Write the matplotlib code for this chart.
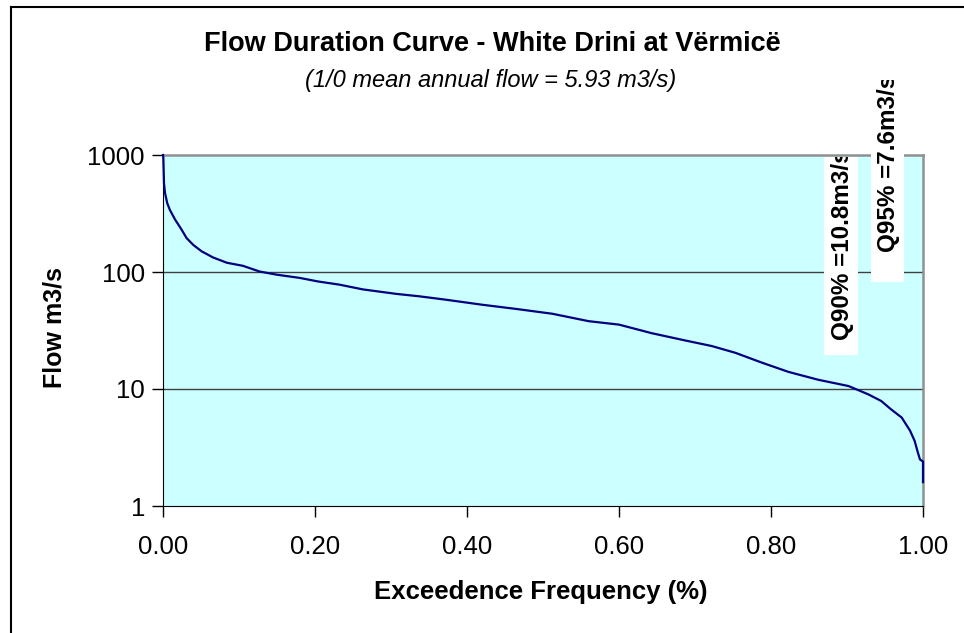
import matplotlib
matplotlib.use("Agg")
import matplotlib.pyplot as plt
from matplotlib.lines import Line2D
from matplotlib.patches import Rectangle
from matplotlib.ticker import FixedLocator, FuncFormatter

plt.rcParams["font.family"] = ["Liberation Sans", "DejaVu Sans"]

# flow duration curve (exceedence fraction, flow m3/s)
exceedence = [0.0, 0.0004, 0.0013, 0.0026, 0.0056, 0.009, 0.016, 0.0245, 0.031,
              0.040, 0.051, 0.066, 0.084, 0.105, 0.127, 0.149, 0.180, 0.204,
              0.232, 0.263, 0.307, 0.337, 0.372, 0.420, 0.464, 0.512, 0.560,
              0.600, 0.643, 0.687, 0.722, 0.753, 0.788, 0.823, 0.862, 0.902,
              0.928, 0.945, 0.958, 0.972, 0.983, 0.989, 0.993, 0.996, 1.0, 1.0]
flow = [1000, 950, 575, 475, 387, 340, 280, 230, 195,
        170, 150, 133, 120, 113, 101, 95, 89, 83,
        78, 71, 65, 62, 58, 52.5, 48.4, 44, 38,
        35.5, 30, 26, 23.3, 20.4, 16.8, 14, 12, 10.6,
        9.0, 7.9, 6.7, 5.7, 4.4, 3.6, 2.9, 2.5, 2.4, 1.6]

x_ticks = [0.0, 0.2, 0.4, 0.6, 0.8, 1.0]
y_ticks = [1, 10, 100, 1000]

title = "Flow Duration Curve - White Drini at Vërmicë"
subtitle = "(1/0 mean annual flow = 5.93 m3/s)"
q90_label = "Q90% =10.8m3/s"
q95_label = "Q95% =7.6m3/s"

W, H = 964, 633
fig = plt.figure(figsize=(W / 100, H / 100), dpi=100)
fig.patch.set_facecolor("white")


def fx(px):
    return px / W


def fy(py):
    return 1 - py / H


# chart-area border (only top and left visible in the crop)
fig.add_artist(Line2D([fx(11), 1.0], [fy(7), fy(7)], color="black", lw=1.5))
fig.add_artist(Line2D([fx(11), fx(11)], [0.0, fy(7)], color="black", lw=1.5))

ax = fig.add_axes([fx(163), fy(506), fx(923) - fx(163), fy(155) - fy(506)])
ax.set_facecolor("#CCFFFF")
ax.set_yscale("log")
ax.set_xlim(0, 1)
ax.set_ylim(1, 1000)

for v in [10, 100]:
    ax.axhline(v, color="#404040", lw=1, zorder=1)

ax.plot(exceedence, flow, color="#000080", lw=1.6, zorder=3, clip_on=False)

ax.yaxis.set_major_locator(FixedLocator(y_ticks))
ax.yaxis.set_minor_locator(FixedLocator([]))
ax.yaxis.set_major_formatter(FuncFormatter(lambda v, p: f"{v:.0f}"))
ax.xaxis.set_major_locator(FixedLocator(x_ticks))
ax.xaxis.set_major_formatter(FuncFormatter(lambda v, p: f"{v:.2f}"))
ax.tick_params(axis="both", direction="out", length=8, width=1, colors="black", labelsize=18.5)
ax.tick_params(axis="y", pad=5)
ax.tick_params(axis="x", pad=13)

ax.spines["left"].set_color("black")
ax.spines["bottom"].set_color("black")
ax.spines["top"].set_color("#909090")
ax.spines["right"].set_color("#909090")
ax.spines["top"].set_linewidth(1.8)
ax.spines["right"].set_linewidth(1.8)

ax.set_xlabel("Exceedence Frequency (%)", fontsize=18.5, fontweight="bold")
ax.set_ylabel("Flow m3/s", fontsize=18, fontweight="bold")
ax.xaxis.set_label_coords(fx(541), fy(592), transform=fig.transFigure)
ax.yaxis.set_label_coords(fx(54), fy(327), transform=fig.transFigure)
ax.xaxis.label.set_va("center")
ax.yaxis.label.set_va("center")

fig.text(fx(492), fy(44), title, ha="center", va="center", fontsize=19.5, fontweight="bold")
fig.text(fx(491), fy(81), subtitle, ha="center", va="center", fontsize=17, style="italic")

# rotated quantile labels in white boxes, clipped to the box like the original
for label, box, cx, bottom in [(q90_label, (824, 157, 858, 355), 843, 340),
                               (q95_label, (871, 80, 904, 282), 889, 252)]:
    x0, y0, x1, y1 = box
    rect = Rectangle((fx(x0), fy(y1)), fx(x1) - fx(x0), fy(y0) - fy(y1),
                     transform=fig.transFigure, facecolor="white", edgecolor="none", zorder=4)
    fig.add_artist(rect)
    t = fig.text(fx(cx), fy(bottom), label, rotation=90, ha="center", va="bottom",
                 fontsize=17.5, fontweight="bold", zorder=5)
    t.set_clip_path(rect)

fig.savefig("out.png", dpi=100)
